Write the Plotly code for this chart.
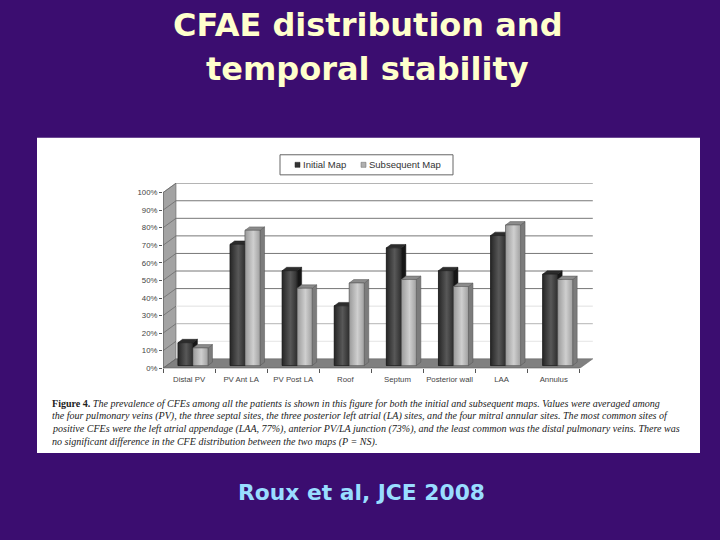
import plotly.graph_objects as go

categories = ["Distal PV", "PV Ant LA", "PV Post LA", "Roof", "Septum", "Posterior wall", "LAA", "Annulus"]
initial_map = [13, 69, 54, 34, 67, 54, 74, 52]
subsequent_map = [10, 77, 44, 47, 49, 45, 80, 49]
y_ticks = [0, 10, 20, 30, 40, 50, 60, 70, 80, 90, 100]
y_labels = [f"{v}%" for v in y_ticks]
grid_colors = ["#8a8a8a", "#e4e4e4", "#b4b4b4", "#e0e0e0", "#777777", "#777777", "#777777", "#777777", "#777777", "#777777", "#909090"]
series_names = ["Initial Map", "Subsequent Map"]
caption_lines = [
    "<b>Figure 4.</b> <i>The prevalence of CFEs among all the patients is shown in this figure for both the initial and subsequent maps. Values were averaged among</i>",
    "<i>the four pulmonary veins (PV), the three septal sites, the three posterior left atrial (LA) sites, and the four mitral annular sites. The most common sites of</i>",
    "<i>positive CFEs were the left atrial appendage (LAA, 77%), anterior PV/LA junction (73%), and the least common was the distal pulmonary veins. There was</i>",
    "<i>no significant difference in the CFE distribution between the two maps (P = NS).</i>",
]

BG = "#3b0d70"
W, H = 720, 540
X0, X1, Y0, Y1 = 163, 593, 367.7, 183.0
CAT_PX = 52.1
PX_Y = 1.75
DX = 13 / CAT_PX       # chart depth, x units
DY = 9.4 / PX_Y        # chart depth, y units
BW = 15 / CAT_PX       # bar width
BDX, BDY = 4.5 / CAT_PX, 3.4 / PX_Y   # bar depth
XMIN = -0.5
XMAX = XMIN + (X1 - X0) / CAT_PX
YMAX = (Y0 - Y1) / PX_Y
BASE = 1.55
SHIFT = 0.075
FRONT_END = XMIN + len(categories)

def py(p):
    """page pixel row -> paper fraction (the drawn paper area is slightly inset vertically)"""
    return 1 - (p - 0.8) / 533

fig = go.Figure()

styles = [
    dict(off=SHIFT - BW / 2, legend="#333333", front=[[0, "#262626"], [0.55, "#585858"], [1, "#2e2e2e"]], side="#161616", top="#2c2c2c", line="#1a1a1a"),
    dict(off=SHIFT + BW / 2, legend="#b0b0b0", front=[[0, "#9a9a9a"], [0.55, "#cfcfcf"], [1, "#a0a0a0"]], side="#7c7c7c", top="#8c8c8c", line="#555555"),
]
all_series = [initial_map, subsequent_map]

for name, vals, st in zip(series_names, all_series, styles):
    fig.add_trace(go.Bar(
        x=[i + st["off"] for i in range(len(categories))], y=vals, base=BASE, width=BW,
        name=name, showlegend=False, marker=dict(color=st["legend"], line=dict(color=st["line"], width=0.5)),
    ))

# 3-D faces, derived from the values, drawn back to front
def poly(xs, ys, **kw):
    fig.add_trace(go.Scatter(x=xs, y=ys, mode="lines", fill="toself", showlegend=False, hoverinfo="skip", **kw))

for i in range(len(categories)):
    for vals, st in zip(all_series, styles):
        l = i + st["off"] - BW / 2
        r = l + BW
        t = BASE + vals[i]
        edge = dict(color=st["line"], width=0.5)
        poly([r, r + BDX, r + BDX, r, r], [BASE, BASE + BDY, t + BDY, t, BASE], fillcolor=st["side"], line=edge)
        poly([l, l + BDX, r + BDX, r, l], [t, t + BDY, t + BDY, t, t], fillcolor=st["top"], line=edge)
        poly([l, r, r, l, l], [BASE, BASE, t, t, BASE], line=edge,
             fillgradient=dict(type="horizontal", colorscale=st["front"]))

def page_rect(x0, x1, y0, y1, **kw):
    return dict(type="rect", xref="paper", yref="paper", x0=x0 / W, x1=x1 / W, y0=py(y1), y1=py(y0),
                layer="below", **kw)

shapes = [
    page_rect(37, 700, 138, 452, fillcolor="white", line_width=0),
    page_rect(280, 453, 155, 175, fillcolor="white", line=dict(color="#666666", width=1)),
    page_rect(295, 300, 162.5, 167.5, fillcolor=styles[0]["legend"], line=dict(color="#222222", width=0.5)),
    page_rect(361, 366, 162.5, 167.5, fillcolor=styles[1]["legend"], line=dict(color="#666666", width=0.5)),
    # left wall
    dict(type="path", xref="x", yref="y", layer="below", fillcolor="#a3a3a3", line=dict(color="#666666", width=0.6),
         path=f"M {XMIN} 0 L {XMIN + DX} {DY} L {XMIN + DX} {100 + DY} L {XMIN} 100 Z"),
    # floor
    dict(type="path", xref="x", yref="y", layer="below", fillcolor="#808080", line=dict(color="#666666", width=0.6),
         path=f"M {XMIN} 0 L {XMIN + DX} {DY} L {FRONT_END + DX} {DY} L {FRONT_END} 0 Z"),
]
for v, c in zip(y_ticks, grid_colors):
    if v > 0:
        shapes.append(dict(type="line", xref="x", yref="y", layer="below", x0=XMIN + DX, x1=FRONT_END + DX,
                           y0=v + DY, y1=v + DY, line=dict(color=c, width=1)))
    shapes.append(dict(type="line", xref="x", yref="y", layer="below", x0=XMIN, x1=XMIN + DX,
                       y0=v, y1=v + DY, line=dict(color="#666666", width=0.7)))
shapes += [
    dict(type="line", xref="x", yref="y", x0=XMIN, x1=XMIN, y0=0, y1=100, line=dict(color="#555555", width=0.8), layer="below"),
    dict(type="line", xref="x", yref="y", x0=XMIN, x1=FRONT_END, y0=0, y1=0, line=dict(color="#555555", width=0.8), layer="below"),
]

def txt(text, px, yy, size, color, family, anchor="center"):
    return dict(text=text, xref="paper", yref="paper", x=px / W, y=py(yy), xanchor=anchor, yanchor="middle",
                showarrow=False, font=dict(size=size, color=color, family=family))

sans = "DejaVu Sans"
annotations = [
    txt("<b>CFAE distribution and</b>", 367.5, 26, 32, "#ffffcc", sans),
    txt("<b>temporal stability</b>", 367.5, 70, 32, "#ffffcc", sans),
    txt("<b>Roux et al, JCE 2008</b>", 361, 491, 21.8, "#99ddff", sans),
    txt(series_names[0], 300.5, 165, 9.5, "#333333", "Liberation Sans", "left"),
    txt(series_names[1], 366.5, 165, 9.5, "#333333", "Liberation Sans", "left"),
]
for line, yy in zip(caption_lines, [403, 415.5, 428, 441]):
    annotations.append(txt(line, 50, yy, 10.05, "#222222", "Liberation Serif", "left"))

fig.update_layout(
    width=W, height=H, margin=dict(l=0, r=0, t=0, b=0), autosize=False,
    paper_bgcolor=BG, plot_bgcolor="rgba(0,0,0,0)", showlegend=False,
    barmode="overlay", shapes=shapes, annotations=annotations,
    xaxis=dict(domain=[X0 / W, X1 / W], range=[XMIN, XMAX], tickmode="array",
               tickvals=list(range(len(categories))), ticktext=categories, ticks="outside", ticklen=3,
               tickcolor="rgba(0,0,0,0)",
               showgrid=False, zeroline=False, showline=False,
               tickfont=dict(size=7.8, color="#444444", family="Liberation Sans"),
               minor=dict(tickmode="array", tickvals=[i - 0.5 for i in range(len(categories) + 1)],
                          ticks="outside", ticklen=4, tickcolor="#555555", showgrid=False)),
    yaxis=dict(domain=[py(Y0), py(Y1)], range=[0, YMAX], tickmode="array",
               tickvals=y_ticks, ticktext=y_labels, ticks="outside", ticklen=3, tickcolor="#555555",
               showgrid=False, zeroline=False, showline=False,
               tickfont=dict(size=7.8, color="#444444", family="Liberation Sans")),
)

fig.write_html("out.html", config={"displayModeBar": False},
               post_script="document.body.style.margin='0';document.body.style.overflow='hidden';")
